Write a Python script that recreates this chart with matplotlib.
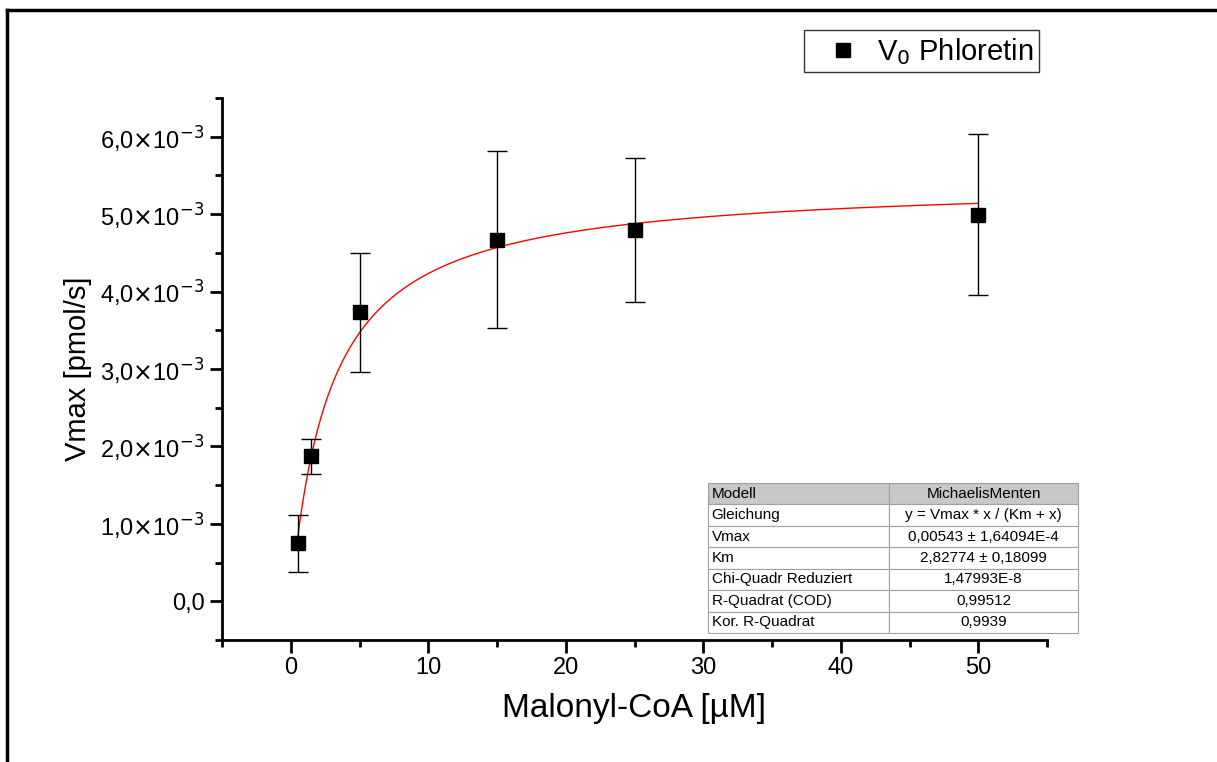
import numpy as np
import matplotlib.pyplot as plt
from matplotlib.lines import Line2D
from matplotlib.ticker import MultipleLocator, FuncFormatter

plt.rcParams['font.family'] = ['Liberation Sans', 'DejaVu Sans']

# Messwerte
malonyl = [0.5, 1.5, 5, 15, 25, 50]
v0 = [0.75e-3, 1.87e-3, 3.73e-3, 4.67e-3, 4.79e-3, 4.99e-3]
v0_err = [0.37e-3, 0.23e-3, 0.77e-3, 1.14e-3, 0.93e-3, 1.04e-3]

# Fit-Parameter (MichaelisMenten, aus der Tabelle)
vmax_fit = 0.00543
km_fit = 2.82774

table_labels = ["Modell", "Gleichung", "Vmax", "Km", "Chi-Quadr Reduziert",
                "R-Quadrat (COD)", "Kor. R-Quadrat"]
table_values = ["MichaelisMenten", "y = Vmax * x / (Km + x)",
                "0,00543 ± 1,64094E-4", "2,82774 ± 0,18099", "1,47993E-8",
                "0,99512", "0,9939"]

fig = plt.figure(figsize=(12.17, 7.62), dpi=100)
W, H = 1217, 762
ax = fig.add_axes([222 / W, 1 - 640 / H, (1047 - 222) / W, (640 - 98) / H])

# Fitkurve
xf = np.linspace(min(malonyl), max(malonyl), 400)
ax.plot(xf, vmax_fit * xf / (km_fit + xf), color='red', lw=1)

ax.errorbar(malonyl, v0, yerr=v0_err, fmt='s', color='black', ms=10,
            ecolor='black', elinewidth=1, capsize=7, capthick=1, zorder=3)

ax.set_xlim(-5, 55)
ax.set_ylim(-0.5e-3, 6.5e-3)
ax.xaxis.set_major_locator(MultipleLocator(10))
ax.xaxis.set_minor_locator(MultipleLocator(5))
ax.yaxis.set_major_locator(MultipleLocator(1e-3))
ax.yaxis.set_minor_locator(MultipleLocator(0.5e-3))


def yfmt(v, pos):
    if abs(v) < 1e-9:
        return "0,0"
    return r"%s$\times$10$^{\mathrm{-3}}$" % ("%.1f" % (v * 1e3)).replace(".", ",")


ax.yaxis.set_major_formatter(FuncFormatter(yfmt))
ax.tick_params(which='major', direction='out', length=9, width=2, labelsize=17)
ax.tick_params(which='minor', direction='out', length=5, width=2)
for s in ['top', 'right']:
    ax.spines[s].set_visible(False)
for s in ['left', 'bottom']:
    ax.spines[s].set_linewidth(2)

ax.set_xlabel("Malonyl-CoA [µM]", fontsize=24, labelpad=10)
ax.set_ylabel("Vmax [pmol/s]", fontsize=21, labelpad=6)

# Legende
handle = Line2D([], [], marker='s', color='black', ls='none', ms=10)
leg = fig.legend([handle], [r"V$_0$ Phloretin"], loc='upper left',
                 bbox_to_anchor=(804 / W, 1 - 30 / H), fontsize=21,
                 frameon=True, fancybox=False, edgecolor='black',
                 handletextpad=0.0, borderpad=0.2, handlelength=2.3,
                 borderaxespad=0)
leg.get_frame().set_linewidth(1)

# Ergebnistabelle
tab = ax.table(cellText=[[a, b] for a, b in zip(table_labels, table_values)],
               colWidths=[(889 - 708) / 825, (1078 - 889) / 825],
               cellLoc='center',
               bbox=[(708 - 222) / 825, (640 - 633) / 542, (1078 - 708) / 825,
                     (633 - 483) / 542])
tab.auto_set_font_size(False)
tab.set_fontsize(11)
for (r, c), cell in tab.get_celld().items():
    cell.set_edgecolor('#a0a0a0')
    cell.set_linewidth(0.8)
    if c == 0:
        cell.set_text_props(ha='left')
        cell.PAD = 0.02
    if r == 0:
        cell.set_facecolor('#c8c8c8')

# Rahmen um die Grafik
fig.add_artist(Line2D([7 / W, 7 / W], [0, 1 - 10 / H], color='black', lw=2.5))
fig.add_artist(Line2D([7 / W, 1], [1 - 10 / H, 1 - 10 / H], color='black', lw=2.5))

fig.savefig("out.png", dpi=100)
